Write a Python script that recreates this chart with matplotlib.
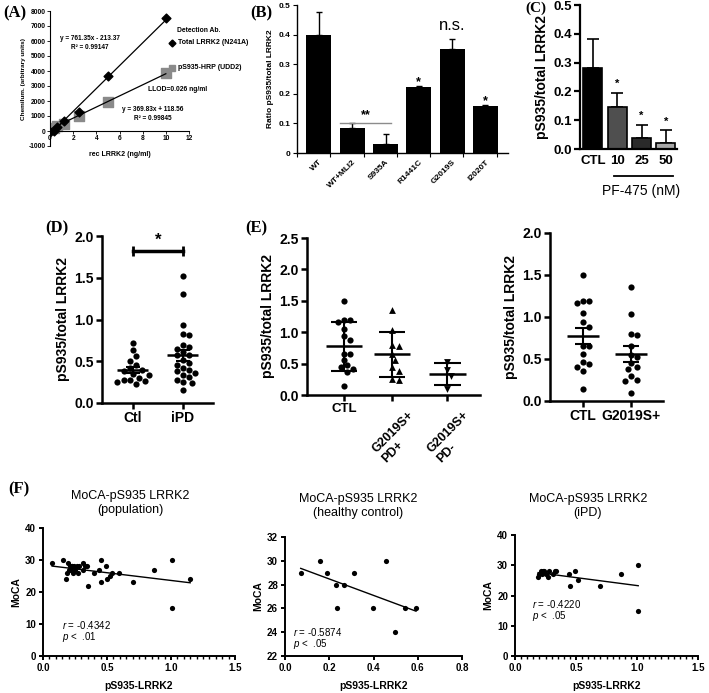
"""pS935 LRRK2 figure, panels A-F drawn on one canvas (709x693 px)."""
import numpy as np
import matplotlib
matplotlib.use("Agg")
import matplotlib.pyplot as plt
from matplotlib.ticker import MultipleLocator, FuncFormatter, FixedLocator
import matplotlib.transforms as mtrans

W, H = 709, 693

# (A) standard curves
conc = [0, 0.3125, 0.625, 1.25, 2.5, 5, 10]
total_signal = [-40, 30, 260, 700, 1270, 3690, 7500]
ps935_signal = [150, 230, 330, 490, 1020, 1955, 3850]
fit_total = (761.35, -213.37)
fit_ps935 = (369.83, 118.56)

# (B) mutants
mutants = ["WT", "WT+MLI2", "S935A", "R1441C", "G2019S", "I2020T"]
ratio_mean = [0.400, 0.085, 0.032, 0.222, 0.353, 0.158]
ratio_err = [0.075, 0.016, 0.032, 0.003, 0.033, 0.003]

# (C) PF-475 dose
pf_groups = ["CTL", "10", "25", "50"]
pf_mean = [0.282, 0.145, 0.037, 0.020]
pf_err = [0.100, 0.050, 0.047, 0.045]

# (D) Ctl vs iPD
d_ctl = [0.72, 0.63, 0.56, 0.50, 0.45, 0.42, 0.40, 0.38, 0.35, 0.34,
         0.30, 0.28, 0.27, 0.26, 0.25, 0.23]
d_ipd = [1.52, 1.30, 0.93, 0.83, 0.82, 0.69, 0.67, 0.65, 0.61, 0.58,
         0.57, 0.52, 0.48, 0.46, 0.42, 0.40, 0.38, 0.36, 0.33, 0.31,
         0.28, 0.25, 0.24, 0.16]

# (E) G2019S carriers
e_ctl = [1.50, 1.19, 1.19, 1.17, 1.05, 0.94, 0.88, 0.66, 0.65, 0.56,
         0.47, 0.44, 0.41, 0.36, 0.14]
e_pd_pos = [1.36, 1.03, 0.80, 0.78, 0.65, 0.55, 0.45, 0.38, 0.25, 0.24]
e_pd_neg = [0.52, 0.40, 0.30, 0.10]

# (F) MoCA vs pS935
hc_x = [0.071, 0.159, 0.192, 0.230, 0.267, 0.310, 0.235, 0.397, 0.456,
        0.541, 0.498, 0.592]
hc_y = [29, 30, 29, 28, 28, 29, 26, 26, 30, 26, 24, 26]
ipd_x = [0.19, 0.20, 0.21, 0.22, 0.23, 0.24, 0.25, 0.27, 0.28, 0.31,
         0.33, 0.34, 0.44, 0.45, 0.49, 0.52, 0.70, 0.87, 1.01, 1.01]
ipd_y = [26, 27, 28, 27, 28, 28, 27, 26, 28, 27, 28, 28, 27, 23, 28, 25,
         23, 27, 30, 15]
other_x = [0.18, 0.35, 1.15]
other_y = [24, 22, 24]

pf_colors = ["#000000", "#4f4f4f", "#2a2a2a", "#a8a8a8"]

plt.rcParams["font.family"] = ["Liberation Sans", "DejaVu Sans"]
plt.rcParams["font.weight"] = "bold"
plt.rcParams["axes.labelweight"] = "bold"
plt.rcParams["axes.unicode_minus"] = False
plt.rcParams["mathtext.fontset"] = "custom"
plt.rcParams["mathtext.rm"] = "Liberation Sans:weight=normal"
plt.rcParams["mathtext.it"] = "Liberation Sans:italic:weight=normal"

fig = plt.figure(figsize=(W / 100, H / 100), dpi=100)


def add_ax(l, t, r, b):
    return fig.add_axes([l / W, 1 - b / H, (r - l) / W, (b - t) / H])


def ftext(x, y, s, **kw):
    kw.setdefault("ha", "center")
    kw.setdefault("va", "center")
    return fig.text(x / W, 1 - y / H, s, **kw)


def letter(x, y, s, fs=12):
    ftext(x, y, s, ha="left", family="Liberation Serif", fontsize=fs)


def prism(ax, lw=1.6, fs=10, length=4):
    for s in ("top", "right"):
        ax.spines[s].set_visible(False)
    for s in ("left", "bottom"):
        ax.spines[s].set_linewidth(lw)
    ax.tick_params(width=lw, length=length, labelsize=fs, pad=2)


def swarm(ax, vals, x0, diam):
    tr = ax.transData
    placed = []
    xs = np.empty(len(vals))
    for i in np.argsort(vals)[::-1]:
        cx, cy = tr.transform((x0, vals[i]))
        for k in range(60):
            offs = [0.0] if k == 0 else [k * diam * 0.5, -k * diam * 0.5]
            ok = None
            for off in offs:
                if all((cx + off - px) ** 2 + (cy - py) ** 2 >= (diam * 0.98) ** 2
                       for px, py in placed):
                    ok = off
                    break
            if ok is not None:
                break
        placed.append((cx + ok, cy))
        xs[i] = tr.inverted().transform((cx + ok, cy))[0]
    return xs


def dot_column(ax, vals, x, marker="o", s=20, spread="sem", mean_w=0.6,
               cap_w=0.3):
    vals = np.asarray(vals, dtype=float)
    diam = np.sqrt(s) * 100 / 72
    xs = swarm(ax, vals, x, diam)
    ax.scatter(xs, vals, s=s, marker=marker, color="black", linewidths=0,
               zorder=3, clip_on=False)
    m = vals.mean()
    sd = vals.std(ddof=1)
    e = sd if spread == "sd" else sd / np.sqrt(len(vals))
    ax.hlines(m, x - mean_w / 2, x + mean_w / 2, color="black", lw=1.8, zorder=4)
    ax.vlines(x, m - e, m + e, color="black", lw=1.5, zorder=4)
    ax.hlines([m - e, m + e], x - cap_w / 2, x + cap_w / 2, color="black",
              lw=1.5, zorder=4)


# ---------------- (A)
axA = add_ax(50, 11, 189, 146)
axA.set_xlim(0, 12)
axA.set_ylim(-1000, 8000)
xf = np.array([0, 10])
axA.scatter(conc, ps935_signal, marker="s", s=55, color="#8a8a8a", zorder=2)
axA.plot(xf, fit_total[0] * xf + fit_total[1], color="black", lw=0.9, zorder=3)
axA.plot(xf, fit_ps935[0] * xf + fit_ps935[1], color="black", lw=0.9, zorder=3)
axA.scatter(conc, total_signal, marker="D", s=20, color="black", zorder=4)
for s in ("top", "right"):
    axA.spines[s].set_visible(False)
axA.spines["bottom"].set_position(("data", 0))
axA.spines["left"].set_linewidth(0.8)
axA.spines["bottom"].set_linewidth(0.8)
axA.xaxis.set_major_locator(MultipleLocator(2))
axA.yaxis.set_major_locator(MultipleLocator(1000))
axA.tick_params(labelsize=4.8, length=2, width=0.6, pad=1)
axA.set_xlabel("rec LRRK2 (ng/ml)", fontsize=5, labelpad=6)
axA.set_ylabel("Chemilum. (arbitrary units)", fontsize=4.6, labelpad=2)
tA = axA.transAxes
axA.text(0.288, 0.80, "y = 761.35x - 213.37", transform=tA, fontsize=4.7,
         ha="center", va="center")
axA.text(0.288, 0.733, "R² = 0.99147", transform=tA, fontsize=4.7,
         ha="center", va="center")
axA.text(0.741, 0.267, "y = 369.83x + 118.56", transform=tA, fontsize=4.7,
         ha="center", va="center")
axA.text(0.741, 0.20, "R² = 0.99845", transform=tA, fontsize=4.7,
         ha="center", va="center")
axA.text(0.705, 0.422, "LLOD=0.026 ng/ml", transform=tA, fontsize=4.9,
         ha="left", va="center")
axA.text(0.914, 0.859, "Detection Ab.", transform=tA, fontsize=4.9,
         ha="left", va="center")
axA.plot([0.878], [0.763], "D", color="black", ms=3.5, transform=tA,
         clip_on=False)
axA.text(0.921, 0.763, "Total LRRK2 (N241A)", transform=tA, fontsize=5,
         ha="left", va="center")
axA.plot([0.878], [0.578], "s", color="#8a8a8a", ms=5, transform=tA,
         clip_on=False)
axA.text(0.921, 0.578, "pS935-HRP (UDD2)", transform=tA, fontsize=5,
         ha="left", va="center")
letter(3, 13, "(A)")

# ---------------- (B)
axB = add_ax(297, 5, 508, 153)
xb = np.arange(len(mutants))
axB.bar(xb, ratio_mean, width=0.75, color="black", zorder=2)
axB.errorbar(xb, ratio_mean, yerr=[np.zeros(len(xb)), ratio_err], fmt="none",
             ecolor="black", elinewidth=1, capsize=2.5, capthick=1, zorder=1)
axB.set_xlim(-0.66, 5.68)
axB.set_ylim(0, 0.5)
for s in ("top", "right"):
    axB.spines[s].set_visible(False)
axB.spines["left"].set_linewidth(1.0)
axB.spines["bottom"].set_linewidth(1.0)
axB.set_xticks(xb)
axB.set_xticklabels(mutants, rotation=45, ha="right", rotation_mode="anchor",
                    fontsize=6)
axB.xaxis.set_minor_locator(FixedLocator(np.arange(7) - 0.66))
axB.tick_params(axis="x", which="major", length=0, pad=4)
axB.tick_params(axis="x", which="minor", length=3, width=0.8)
axB.yaxis.set_major_locator(MultipleLocator(0.1))
axB.yaxis.set_major_formatter(FuncFormatter(lambda v, p: "0" if abs(v) < 1e-9 else f"{v:.1f}"))
axB.tick_params(axis="y", labelsize=6, length=3, width=0.8, pad=2)
axB.set_ylabel("Ratio pS935/total LRRK2", fontsize=6, labelpad=3)
axB.plot([0.63, 2.16], [0.101, 0.101], color="#8c8c8c", lw=1)
axB.text(1.4, 0.128, "**", ha="center", va="center", fontsize=9)
axB.text(3, 0.238, "*", ha="center", va="center", fontsize=9)
axB.text(5, 0.176, "*", ha="center", va="center", fontsize=9)
axB.text(4, 0.432, "n.s.", ha="center", va="center", fontsize=12,
         fontweight="normal")
letter(250, 13, "(B)")

# ---------------- (C)
axC = add_ax(580, 5, 677, 149)
xc = np.arange(len(pf_groups))
axC.bar(xc, pf_mean, width=0.78, color=pf_colors, edgecolor="black", lw=1.2,
        zorder=2)
axC.errorbar(xc, pf_mean, yerr=[np.zeros(len(xc)), pf_err], fmt="none",
             ecolor="black", elinewidth=1.2, capsize=4, capthick=1.2, zorder=1)
axC.set_xlim(-0.53, 3.46)
axC.set_ylim(0, 0.5)
prism(axC, lw=1.6, fs=9.5)
axC.set_xticks(xc)
axC.set_xticklabels(pf_groups, fontsize=9.5)
axC.tick_params(axis="x", length=0, pad=4)
axC.yaxis.set_major_locator(MultipleLocator(0.1))
axC.yaxis.set_major_formatter(FuncFormatter(lambda v, p: f"{v:.1f}"))
axC.set_ylabel("pS935/total LRRK2", fontsize=10, labelpad=3)
for i in range(1, len(xc)):
    axC.text(xc[i], pf_mean[i] + pf_err[i] + 0.03, "*", ha="center",
             va="center", fontsize=8)
bC = mtrans.blended_transform_factory(axC.transData, axC.transAxes)
axC.plot([0.88, 3.3], [-0.19, -0.19], color="black", lw=1.3, transform=bC,
         clip_on=False)
axC.text(2.0, -0.29, "PF-475 (nM)", transform=bC, ha="center", va="center",
         fontsize=10, fontweight="normal")
letter(525, 8, "(C)", fs=11)

# ---------------- (D)
axD = add_ax(102, 236, 213, 403)
axD.set_xlim(0.38, 2.6)
axD.set_ylim(0, 2.0)
prism(axD, lw=1.8, fs=10)
axD.set_xticks([1, 2])
axD.set_xticklabels(["Ctl", "iPD"])
axD.yaxis.set_major_locator(MultipleLocator(0.5))
axD.yaxis.set_major_formatter(FuncFormatter(lambda v, p: f"{v:.1f}"))
axD.set_ylabel("pS935/total LRRK2", fontsize=10, labelpad=3)
dot_column(axD, d_ctl, 1, mean_w=0.62, cap_w=0.28)
dot_column(axD, d_ipd, 2, mean_w=0.62, cap_w=0.28)
axD.plot([1, 2], [1.82, 1.82], color="black", lw=2.5, clip_on=False)
axD.vlines([1, 2], 1.76, 1.88, color="black", lw=2.0, clip_on=False)
axD.text(1.5, 1.95, "*", ha="center", va="center", fontsize=12)
letter(45, 228, "(D)")

# ---------------- (E) left
axE = add_ax(307, 238, 480, 395)
axE.set_xlim(0.23, 3.83)
axE.set_ylim(0, 2.5)
prism(axE, lw=1.8, fs=10)
pos_e = [1, 2, 3.15]
axE.set_xticks(pos_e)
axE.set_xticklabels(["CTL", "", ""], fontsize=9.5)
bE = mtrans.blended_transform_factory(axE.transData, axE.transAxes)
for xp, lab in zip(pos_e[1:], ["G2019S+\nPD+", "G2019S+\nPD-"]):
    axE.text(xp + 0.12, -0.09, lab, transform=bE, rotation=45, ha="center",
             va="top", multialignment="left", fontsize=9)
axE.yaxis.set_major_locator(MultipleLocator(0.5))
axE.yaxis.set_major_formatter(FuncFormatter(lambda v, p: f"{v:.1f}"))
axE.set_ylabel("pS935/total LRRK2", fontsize=10, labelpad=3)
dot_column(axE, e_ctl, pos_e[0], spread="sd", mean_w=0.76, cap_w=0.55)
dot_column(axE, e_pd_pos, pos_e[1], marker="^", s=24, spread="sd",
           mean_w=0.76, cap_w=0.55)
dot_column(axE, e_pd_neg, pos_e[2], marker="v", s=24, spread="sd",
           mean_w=0.76, cap_w=0.55)
letter(245, 228, "(E)")

# ---------------- (E) right
axE2 = add_ax(550, 233, 663, 401)
axE2.set_xlim(0.31, 2.67)
axE2.set_ylim(0, 2.0)
prism(axE2, lw=1.8, fs=10)
axE2.set_xticks([1, 2])
axE2.set_xticklabels(["CTL", "G2019S+"], fontsize=10)
axE2.yaxis.set_major_locator(MultipleLocator(0.5))
axE2.yaxis.set_major_formatter(FuncFormatter(lambda v, p: f"{v:.1f}"))
axE2.set_ylabel("pS935/total LRRK2", fontsize=10, labelpad=3)
dot_column(axE2, e_ctl, 1, mean_w=0.68, cap_w=0.34)
dot_column(axE2, e_pd_pos + e_pd_neg, 2, mean_w=0.68, cap_w=0.34)


# ---------------- (F)
def moca_panel(rect, x, y, xmax, ylim, ystep, xstep, minor, title, tpos,
               r_txt, p_txt, rpos):
    ax = add_ax(*rect)
    ax.set_xlim(0, xmax)
    ax.set_ylim(*ylim)
    prism(ax, lw=1.4, fs=7, length=3)
    ax.xaxis.set_major_locator(MultipleLocator(xstep))
    ax.xaxis.set_major_formatter(FuncFormatter(lambda v, p: f"{v:.1f}"))
    if minor:
        ax.xaxis.set_minor_locator(MultipleLocator(minor))
        ax.tick_params(axis="x", which="minor", length=2, width=1.0)
    ax.yaxis.set_major_locator(MultipleLocator(ystep))
    ax.scatter(x, y, s=14, color="black", linewidths=0, zorder=3)
    k, b = np.polyfit(x, y, 1)
    xl = np.array([min(x), max(x)])
    ax.plot(xl, k * xl + b, color="black", lw=1.0, zorder=2)
    ax.set_xlabel("pS935-LRRK2", fontsize=7.5, labelpad=6)
    ax.set_ylabel("MoCA", fontsize=7.5, labelpad=3)
    ftext(tpos[0], tpos[1], title, fontsize=9, fontweight="normal",
          linespacing=1.15)
    ftext(rpos[0], rpos[1], r_txt, ha="left", fontsize=7, fontweight="normal")
    ftext(rpos[0], rpos[1] + 12, p_txt, ha="left", fontsize=7,
          fontweight="normal")
    return ax


moca_panel((43, 528, 235, 656), hc_x + ipd_x + other_x, hc_y + ipd_y + other_y,
           1.5, (0, 40), 10, 0.5, 0.05, "MoCA-pS935 LRRK2\n(population)",
           (130, 503), r"$r$ = -0.4342", r"$p$ <  .01", (62, 625))
moca_panel((285, 537, 462, 656), hc_x, hc_y, 0.8, (22, 32), 2, 0.2, None,
           "MoCA-pS935 LRRK2\n(healthy control)", (358, 506),
           r"$r$ = -0.5874", r"$p$ <  .05", (293, 632))
moca_panel((515, 535, 698, 656), ipd_x, ipd_y, 1.5, (0, 40), 10, 0.5, 0.05,
           "MoCA-pS935 LRRK2\n(iPD)", (588, 506), r"$r$ = -0.4220",
           r"$p$ <  .05", (532, 604))
letter(8, 489, "(F)")

fig.savefig("out.png", dpi=100, facecolor="white")
